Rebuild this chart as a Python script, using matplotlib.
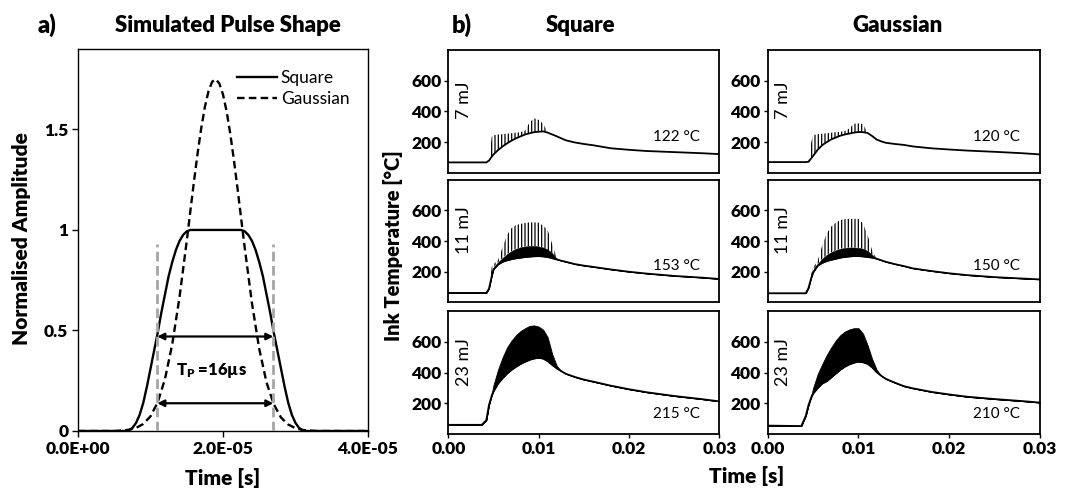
import matplotlib
matplotlib.use('Agg')
import matplotlib.pyplot as plt
import numpy as np

plt.rcParams['font.family'] = ['Lato', 'DejaVu Sans']
plt.rcParams['mathtext.fontset'] = 'custom'
plt.rcParams['mathtext.rm'] = 'Lato'
plt.rcParams['mathtext.bf'] = 'Lato:heavy'
plt.rcParams['hatch.linewidth'] = 0.9

BOLD = 'heavy'

# ---------------- panel a) data (time in microseconds) ----------------
SQUARE_T_US = [0, 6.5, 7.0, 7.5, 8.0, 8.5, 9.0, 9.5, 10.0, 10.5, 11.0, 11.5, 12.0, 12.5,
               13.0, 13.5, 14.0, 14.5, 15.0, 15.5, 22.5, 23.0, 23.5, 24.0, 24.5, 25.0,
               25.5, 26.0, 26.5, 27.0, 27.5, 28.0, 28.5, 29.0, 29.5, 30.0, 30.5, 31.0,
               31.5, 40]
SQUARE_AMP = [0, 0, 0.003, 0.015, 0.04, 0.08, 0.14, 0.22, 0.31, 0.40, 0.49, 0.59, 0.68, 0.77,
              0.84, 0.90, 0.945, 0.975, 0.993, 1.0, 1.0, 0.993, 0.975, 0.945, 0.90, 0.84,
              0.77, 0.68, 0.59, 0.49, 0.40, 0.31, 0.22, 0.14, 0.08, 0.04, 0.015, 0.003,
              0, 0]
GAUSS_T_US = [0, 5, 6, 7, 8, 9, 10, 11, 12, 13, 14, 15, 15.5, 16, 16.5, 17, 17.5, 18, 18.5,
              19, 19.5, 20, 20.5, 21, 21.5, 22, 22.5, 23, 24, 25, 26, 27, 28, 29, 30, 31,
              32, 33, 40]
GAUSS_AMP = [0, 0, 0.002, 0.006, 0.015, 0.035, 0.073, 0.143, 0.259, 0.432, 0.665, 0.945,
             1.095, 1.242, 1.382, 1.507, 1.612, 1.690, 1.737, 1.750, 1.728, 1.674, 1.589,
             1.479, 1.349, 1.207, 1.058, 0.910, 0.634, 0.408, 0.242, 0.133, 0.067, 0.032,
             0.014, 0.005, 0.002, 0, 0]
TP_BOUNDS_S = [1.094e-5, 2.694e-5]
ARROW_LEVELS = [0.47, 0.138]
GUIDE_TOP = 0.93
TP_LABEL_LEVEL = 0.30
A_XTICKS = [0, 2e-5, 4e-5]
A_XTICKLABELS = ['0.0E+00', '2.0E-05', '4.0E-05']
A_YTICKS = [0, 0.5, 1, 1.5]
A_YTICKLABELS = ['0', '0.5', '1', '1.5']

# ---------------- panel b) data ----------------
TIME_S = [0, 0.0037, 0.0042, 0.0045, 0.0048, 0.0050, 0.0055, 0.0060, 0.0065, 0.0070,
          0.0075, 0.0080, 0.0085, 0.0090, 0.0095, 0.0100, 0.0105, 0.0110, 0.0115, 0.0120,
          0.0125, 0.0130, 0.0140, 0.0150, 0.0160, 0.0180, 0.0200, 0.0220, 0.0250, 0.0280,
          0.0300]

SQ7_LOW = [68, 68, 68, 80, 105, 120, 148, 172, 192, 210, 225, 238, 250, 258, 265, 268, 270,
           262, 250, 238, 225, 212, 198, 188, 180, 160, 150, 142, 135, 128, 122]
SQ7_UP = [68, 68, 68, 80, 235, 245, 250, 252, 255, 258, 262, 265, 275, 330, 355, 345, 320,
          262, 250, 238, 225, 212, 198, 188, 180, 160, 150, 142, 135, 128, 122]

SQ11_LOW = [62, 62, 62, 90, 170, 215, 248, 265, 275, 282, 288, 292, 296, 299, 301, 302, 300,
            296, 288, 280, 272, 265, 250, 240, 232, 215, 200, 188, 173, 162, 153]
SQ11_CORE = [62, 62, 62, 90, 175, 225, 262, 290, 315, 335, 350, 360, 365, 368, 368, 365, 358,
             345, 320, 285, 272, 265, 250, 240, 232, 215, 200, 188, 173, 162, 153]
SQ11_UP = [62, 62, 62, 90, 230, 250, 275, 360, 440, 485, 505, 512, 518, 522, 522, 520, 500,
           470, 380, 290, 272, 265, 250, 240, 232, 215, 200, 188, 173, 162, 153]

SQ23_LOW = [60, 60, 90, 190, 250, 280, 330, 365, 395, 420, 440, 458, 472, 485, 493, 497, 492,
            475, 450, 428, 410, 393, 372, 355, 342, 315, 292, 272, 248, 228, 213]
SQ23_UP = [60, 60, 90, 190, 260, 320, 420, 500, 565, 610, 645, 672, 690, 705, 708, 700, 680,
           630, 520, 445, 410, 393, 372, 355, 342, 315, 292, 272, 248, 228, 213]

GA7_LOW = [70, 70, 70, 72, 95, 110, 150, 180, 200, 218, 230, 242, 250, 256, 262, 266, 265,
           260, 240, 217, 205, 196, 188, 182, 172, 160, 152, 145, 137, 128, 120]
GA7_UP = [70, 70, 70, 72, 200, 245, 252, 255, 258, 262, 265, 268, 272, 290, 320, 322, 318,
          260, 240, 217, 205, 196, 188, 182, 172, 160, 152, 145, 137, 128, 120]

GA11_LOW = [60, 60, 60, 95, 160, 195, 240, 258, 270, 278, 285, 292, 297, 300, 302, 302, 300,
            296, 292, 285, 275, 265, 250, 237, 222, 205, 190, 178, 165, 156, 150]
GA11_CORE = [60, 60, 60, 95, 170, 205, 250, 285, 310, 328, 340, 350, 355, 358, 358, 356, 350,
             335, 310, 285, 275, 265, 250, 237, 222, 205, 190, 178, 165, 156, 150]
GA11_UP = [60, 60, 60, 95, 185, 230, 270, 370, 450, 495, 520, 537, 543, 545, 545, 545, 515,
           440, 340, 285, 275, 265, 250, 237, 222, 205, 190, 178, 165, 156, 150]

GA23_LOW = [55, 52, 120, 190, 240, 265, 300, 330, 345, 370, 395, 420, 440, 455, 466, 472, 468,
            458, 435, 403, 380, 360, 335, 312, 298, 275, 258, 243, 228, 215, 205]
GA23_UP = [55, 52, 120, 190, 250, 300, 390, 455, 515, 565, 610, 645, 668, 682, 690, 690, 655,
           580, 490, 420, 380, 360, 335, 312, 298, 275, 258, 243, 228, 215, 205]

ENERGIES = ['7 mJ', '11 mJ', '23 mJ']
SQ_FINAL = ['122 °C', '153 °C', '215 °C']
GA_FINAL = ['120 °C', '150 °C', '210 °C']
B_XTICKS = [0, 0.01, 0.02, 0.03]
B_XTICKLABELS = ['0.00', '0.01', '0.02', '0.03']
B_YTICKS = [200, 400, 600]

# ---------------- figure ----------------
fig = plt.figure(figsize=(10.67, 4.91), dpi=100)

# panel a
axa = fig.add_axes([0.0731, 0.1222, 0.2718, 0.778])
sq_t = np.array(SQUARE_T_US) * 1e-6
ga_t = np.array(GAUSS_T_US) * 1e-6
axa.plot(sq_t, SQUARE_AMP, color='black', lw=1.7, label='Square')
axa.plot(ga_t, GAUSS_AMP, color='black', lw=1.7, ls=(0, (3.2, 1.8)), label='Gaussian')
for tb in TP_BOUNDS_S:
    axa.plot([tb, tb], [0, GUIDE_TOP], color='#a6a6a6', lw=2.0, ls=(0, (3.5, 1.6)), zorder=3)
for lvl in ARROW_LEVELS:
    axa.annotate('', xy=(TP_BOUNDS_S[1], lvl), xytext=(TP_BOUNDS_S[0], lvl),
                 arrowprops=dict(arrowstyle='<|-|>', color='black', lw=1.6,
                                 mutation_scale=10, shrinkA=0, shrinkB=0), zorder=4)
axa.text(np.mean(TP_BOUNDS_S) - 0.05e-5, TP_LABEL_LEVEL, r'$\mathbf{T_P}$ =16µs',
         ha='center', va='center', fontsize=12, fontweight=BOLD)
axa.set_xlim(0, 4e-5)
axa.set_ylim(0, 1.9)
axa.set_xticks(A_XTICKS)
axa.set_xticklabels(A_XTICKLABELS, fontweight=BOLD, fontsize=12.5)
axa.set_yticks(A_YTICKS)
axa.set_yticklabels(A_YTICKLABELS, fontweight=BOLD, fontsize=12.5)
axa.tick_params(direction='out', length=4, width=1, pad=3)
for sp in axa.spines.values():
    sp.set_linewidth(1.0)
axa.legend(loc='upper right', bbox_to_anchor=(0.99, 0.985), frameon=False, fontsize=12.5,
           handlelength=2.3, handletextpad=0.2, labelspacing=0.25)

# panel b
col_left = [0.4202, 0.7195]
col_width = [0.254, 0.2552]
row_bottom = [0.648, 0.384, 0.116]
row_h = 0.250

sq_data = [(SQ7_LOW, None, SQ7_UP), (SQ11_LOW, SQ11_CORE, SQ11_UP), (SQ23_LOW, None, SQ23_UP)]
ga_data = [(GA7_LOW, None, GA7_UP), (GA11_LOW, GA11_CORE, GA11_UP), (GA23_LOW, None, GA23_UP)]
t = np.array(TIME_S)

for c, (data, finals) in enumerate([(sq_data, SQ_FINAL), (ga_data, GA_FINAL)]):
    for r in range(3):
        ax = fig.add_axes([col_left[c], row_bottom[r], col_width[c], row_h])
        low, core, up = data[r]
        low = np.array(low, float)
        up = np.array(up, float)
        if r == 2:
            ax.fill_between(t, low, up, color='black', lw=0.6)
        else:
            base = low if core is None else np.array(core, float)
            if core is not None:
                ax.fill_between(t, low, base, color='black', lw=0.4)
            ax.fill_between(t, base, up, facecolor='none', edgecolor='black',
                            hatch='|||||', lw=0)
        ax.plot(t, low, color='black', lw=1.3)
        ax.set_xlim(0, 0.03)
        ax.set_ylim(0, 800)
        ax.set_yticks(B_YTICKS)
        ax.set_yticklabels([str(v) for v in B_YTICKS], fontweight=BOLD, fontsize=12.5)
        ax.set_xticks(B_XTICKS)
        if r == 2:
            ax.set_xticklabels(B_XTICKLABELS, fontweight=BOLD, fontsize=12.5)
            ax.tick_params(axis='x', direction='out', length=3, width=1, pad=2)
        else:
            ax.set_xticklabels([])
            ax.tick_params(axis='x', length=0)
        ax.tick_params(axis='y', direction='out', length=3, width=1, pad=2)
        for sp in ax.spines.values():
            sp.set_linewidth(1.3)
        ax.text(0.058, 0.59, ENERGIES[r], transform=ax.transAxes, rotation=90,
                ha='center', va='center', fontsize=13)
        ax.text(0.842, 0.294 if r < 2 else 0.166, finals[r], transform=ax.transAxes,
                ha='center', va='center', fontsize=11)

# titles and labels
fig.text(0.044, 0.949, 'a)', fontsize=17, fontweight=BOLD, ha='center', va='center')
fig.text(0.2137, 0.949, 'Simulated Pulse Shape', fontsize=16, fontweight=BOLD,
         ha='center', va='center')
fig.text(0.433, 0.949, 'b)', fontsize=17, fontweight=BOLD, ha='center', va='center')
fig.text(0.5436, 0.949, 'Square', fontsize=16, fontweight=BOLD, ha='center', va='center')
fig.text(0.8416, 0.949, 'Gaussian', fontsize=16, fontweight=BOLD, ha='center', va='center')
fig.text(0.0205, 0.515, 'Normalised Amplitude', fontsize=15, fontweight=BOLD,
         rotation=90, ha='center', va='center')
fig.text(0.209, 0.027, 'Time [s]', fontsize=15, fontweight=BOLD, ha='center', va='center')
fig.text(0.3683, 0.50, 'Ink Temperature [°C]', fontsize=14.5, fontweight=BOLD,
         rotation=90, ha='center', va='center')
fig.text(0.6998, 0.031, 'Time [s]', fontsize=15, fontweight=BOLD, ha='center', va='center')

fig.savefig('out.png', dpi=100)
